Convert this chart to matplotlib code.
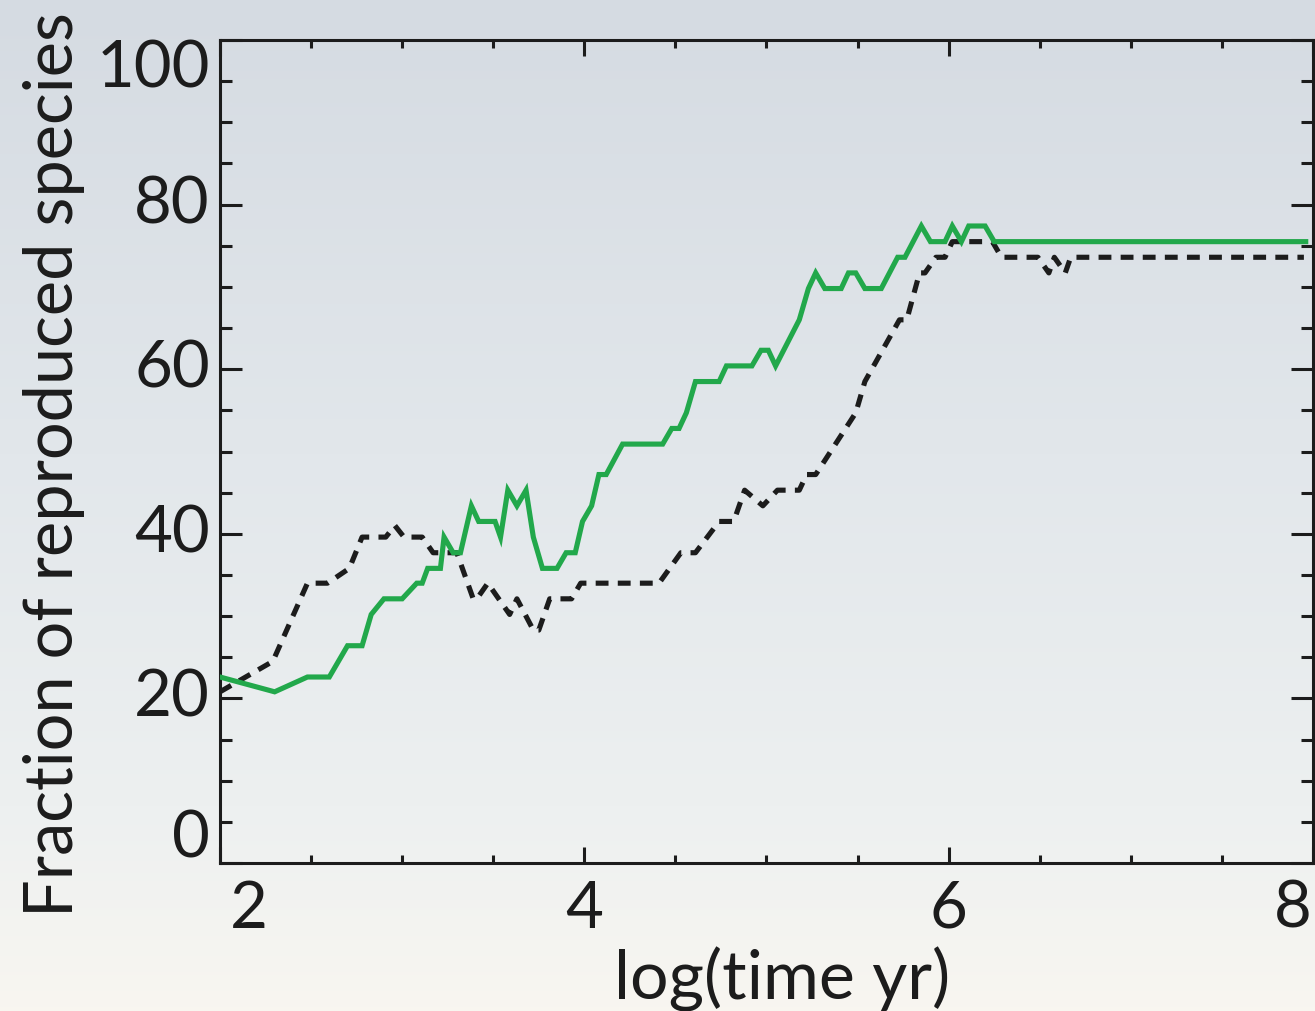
import numpy as np
import matplotlib
matplotlib.use("Agg")
import matplotlib.pyplot as plt
from matplotlib.colors import LinearSegmentedColormap

# ---- data -------------------------------------------------------------
# log10(time / yr) vs. fraction (%) of species reproduced
green_x = [2.00, 2.30, 2.48, 2.60, 2.70, 2.78, 2.83, 2.90, 3.00, 3.08, 3.11, 3.14,
           3.21, 3.23, 3.28, 3.32, 3.38, 3.42, 3.51, 3.54, 3.58, 3.63, 3.68, 3.72,
           3.77, 3.85, 3.90, 3.95, 3.99, 4.04, 4.08, 4.12, 4.21, 4.43, 4.48, 4.52,
           4.56, 4.61, 4.74, 4.78, 4.92, 4.97, 5.01, 5.05, 5.18, 5.23, 5.27, 5.32,
           5.41, 5.45, 5.49, 5.54, 5.63, 5.72, 5.76, 5.85, 5.90, 5.98, 6.02, 6.07,
           6.11, 6.20, 6.25, 7.96]
green_y = [22.6, 20.8, 22.6, 22.6, 26.4, 26.4, 30.2, 32.1, 32.1, 34.0, 34.0, 35.8,
           35.8, 39.6, 37.7, 37.7, 43.4, 41.5, 41.5, 39.6, 45.3, 43.4, 45.3, 39.6,
           35.8, 35.8, 37.7, 37.7, 41.5, 43.4, 47.2, 47.2, 50.9, 50.9, 52.8, 52.8,
           54.7, 58.5, 58.5, 60.4, 60.4, 62.3, 62.3, 60.4, 66.0, 69.8, 71.7, 69.8,
           69.8, 71.7, 71.7, 69.8, 69.8, 73.6, 73.6, 77.4, 75.5, 75.5, 77.4, 75.5,
           77.4, 77.4, 75.5, 75.5]

black_x = [2.00, 2.29, 2.48, 2.59, 2.71, 2.78, 2.91, 2.96, 3.01, 3.11, 3.17, 3.30,
           3.39, 3.41, 3.47, 3.59, 3.63, 3.72, 3.75, 3.81, 3.93, 3.98, 4.41, 4.53,
           4.61, 4.74, 4.82, 4.88, 4.98, 5.06, 5.18, 5.22, 5.27, 5.49, 5.54, 5.73,
           5.77, 5.84, 5.87, 5.93, 5.98, 6.02, 6.24, 6.29, 6.49, 6.55, 6.58, 6.64,
           6.67, 7.95]
black_y = [20.8, 24.5, 34.0, 34.0, 35.8, 39.6, 39.6, 41.0, 39.6, 39.6, 37.7, 37.7,
           32.1, 32.1, 34.0, 30.2, 32.1, 28.3, 28.3, 32.1, 32.1, 34.0, 34.0, 37.7,
           37.7, 41.5, 41.5, 45.3, 43.4, 45.3, 45.3, 47.2, 47.2, 54.7, 58.5, 66.0,
           66.0, 71.7, 71.7, 73.6, 73.6, 75.5, 75.5, 73.6, 73.6, 71.7, 73.6, 71.7,
           73.6, 73.6]

x_ticks = [2, 4, 6, 8]
y_ticks = [0, 20, 40, 60, 80, 100]

# ---- figure -----------------------------------------------------------
W, H = 1315, 1011
plt.rcParams['font.family'] = ['Lato', 'DejaVu Sans']
fig = plt.figure(figsize=(W / 100, H / 100), dpi=100)

# soft vertical backdrop: blue-grey at the top fading to warm white
bg = fig.add_axes([0, 0, 1, 1], zorder=-10)
bg_cmap = LinearSegmentedColormap.from_list(
    "backdrop",
    [(0.0, "#d5dbe2"), (0.45, "#e2e7eb"), (0.8, "#edf0f0"), (1.0, "#f8f6f0")])
bg.imshow(np.linspace(0, 1, 256)[:, None], aspect="auto", cmap=bg_cmap,
          extent=[0, 1, 0, 1], origin="upper")
bg.set_axis_off()

L, R, T, B = 220, 1313, 40, 863
ax = fig.add_axes([L / W, 1 - B / H, (R - L) / W, (B - T) / H])
ax.patch.set_alpha(0)

ax.plot(green_x, green_y, color="#22a84b", lw=3.7, solid_joinstyle="miter",
        zorder=3)
ax.plot(black_x, black_y, color="#1c1c1c", lw=3.7, linestyle=(0, (2.5, 1.8)),
        zorder=2)

ax.set_xlim(2, 8)
ax.set_ylim(0, 100)

for s in ax.spines.values():
    s.set_linewidth(2.2)
    s.set_color("#1c1c1c")

ax.set_xticks(x_ticks)
ax.set_yticks(y_ticks)
ax.set_xticks(np.arange(2, 8.01, 0.5), minor=True)
ax.set_yticks(np.arange(0, 100.1, 5), minor=True)
ax.tick_params(which="both", direction="in", top=True, right=True,
               width=2.2, color="#1c1c1c", labelbottom=False, labelleft=False)
ax.tick_params(axis="x", which="major", length=11.5)
ax.tick_params(axis="x", which="minor", length=5.8)
ax.tick_params(axis="y", which="major", length=15.5)
ax.tick_params(axis="y", which="minor", length=8.5)

fs = 47
tc = "#1c1c1c"
ytr = ax.get_yaxis_transform()
xtr = ax.get_xaxis_transform()
dx = -10 / (R - L)
for v in y_ticks:
    if v == 0:
        ax.text(dx, 0.7, "0", transform=ytr, ha="right", va="baseline",
                fontsize=fs, color=tc)
    elif v == 100:
        ax.text(dx, 100, "100", transform=ytr, ha="right", va="top",
                fontsize=fs, color=tc)
    else:
        ax.text(dx, v, str(v), transform=ytr, ha="right", va="center",
                fontsize=fs, color=tc)

dy = -17 / (B - T)
for v in x_ticks:
    if v == 2:
        ax.text(2.055, dy, "2", transform=xtr, ha="left", va="top",
                fontsize=fs, color=tc)
    elif v == 8:
        ax.text(7.99, dy, "8", transform=xtr, ha="right", va="top",
                fontsize=fs, color=tc)
    else:
        ax.text(v, dy, str(v), transform=xtr, ha="center", va="top",
                fontsize=fs, color=tc)

fig.text(782 / W, 1 - 1000 / H, "log(time yr)", ha="center", va="baseline",
         fontsize=49, color=tc)
fig.text(54 / W, 1 - 465 / H, "Fraction of reproduced species", rotation=90,
         ha="center", va="center", fontsize=48, color=tc)

fig.savefig("out.png", dpi=100)
